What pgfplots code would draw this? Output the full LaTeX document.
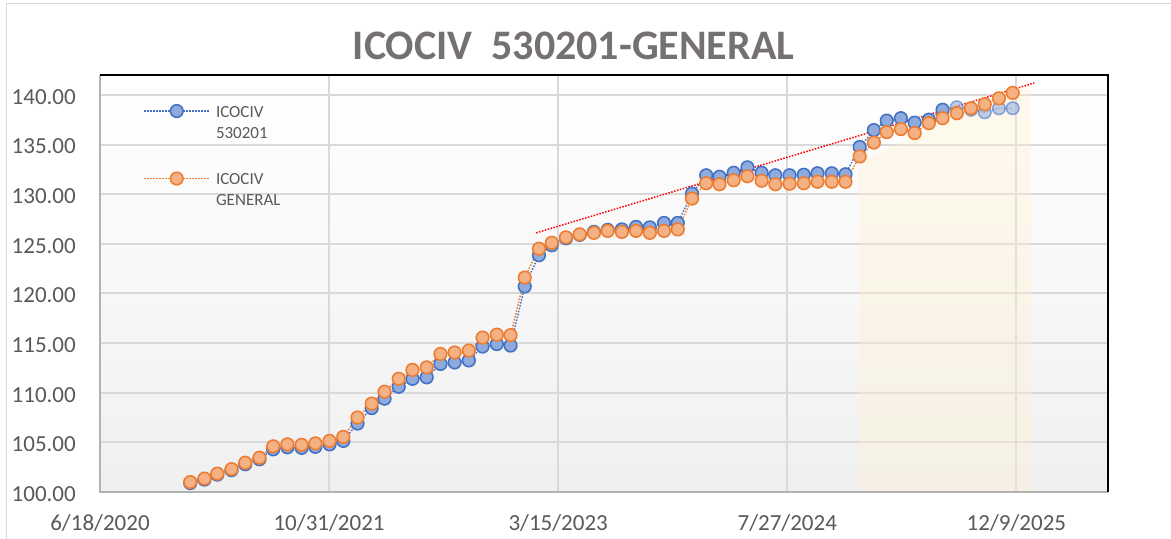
\documentclass[border=0pt]{standalone}
\usepackage{pgfplots}
\usepackage{pgfplotstable}
\pgfplotsset{compat=1.18}
\usepackage{fontspec}
\setmainfont{Carlito}
\definecolor{bluel}{HTML}{4472C4}
\definecolor{bluef}{HTML}{8FAADC}
\definecolor{orl}{HTML}{ED7D31}
\definecolor{orf}{HTML}{F4B183}
\definecolor{txt}{HTML}{595959}
\definecolor{ttl}{HTML}{767171}
\definecolor{gridc}{HTML}{D9D9D9}
\definecolor{shadec}{HTML}{FFF2CC}

\pgfplotstableread{
date  blue   orange
44197 100.90 101.00
44228 101.25 101.35
44256 101.75 101.85
44287 102.20 102.30
44317 102.80 102.95
44348 103.30 103.45
44378 104.30 104.60
44409 104.50 104.80
44440 104.45 104.75
44470 104.55 104.90
44501 104.80 105.15
44531 105.15 105.55
44562 106.90 107.50
44593 108.45 108.90
44621 109.40 110.10
44652 110.60 111.40
44682 111.40 112.30
44713 111.55 112.55
44743 112.90 113.90
44774 113.05 114.05
44805 113.25 114.25
44835 114.65 115.55
44866 114.90 115.85
44896 114.75 115.80
44927 120.70 121.60
44958 123.85 124.50
44986 124.85 125.10
45017 125.55 125.65
45047 125.90 125.95
45078 126.20 126.10
45108 126.40 126.30
45139 126.45 126.20
45170 126.70 126.30
45200 126.65 126.10
45231 127.10 126.30
45261 127.10 126.45
45292 130.05 129.55
45323 131.90 131.10
45352 131.75 131.00
45383 132.15 131.40
45413 132.70 131.80
45444 132.15 131.35
45474 131.90 131.00
45505 131.90 131.05
45536 131.95 131.10
45566 132.10 131.25
45597 132.10 131.25
45627 132.00 131.25
45658 134.75 133.80
45689 136.45 135.20
45717 137.40 136.25
45748 137.65 136.55
45778 137.20 136.15
45809 137.50 137.15
45839 138.50 137.65
45870 138.75 138.15
45901 138.50 138.65
45931 138.25 139.05
45962 138.65 139.65
45992 138.65 140.20
}\datatable

\begin{document}
\begin{tikzpicture}
\useasboundingbox (-100bp,-47bp) rectangle (1071bp,492bp);
\fill[white] (-100bp,-47bp) rectangle (1071bp,492bp);
\draw[black!15, line width=1bp] (-93bp,-60bp) -- (-93bp,488bp) -- (1090bp,488bp);
\begin{axis}[
  at={(0,0)}, anchor=south west,
  scale only axis, width=1008bp, height=417bp,
  xmin=44000, xmax=46200, ymin=100, ymax=142,
  xtick={44000,44500,45000,45500,46000},
  xticklabels={6/18/2020,10/31/2021,3/15/2023,7/27/2024,12/9/2025},
  scaled x ticks=false,
  ytick={100,105,110,115,120,125,130,135,140},
  yticklabel={\pgfmathprintnumber[fixed,fixed zerofill,precision=2]{\tick}},
  /pgf/number format/assume math mode=true,
  major tick length=0pt,
  grid=major,
  major grid style={gridc, line width=2bp},
  axis line style={draw=none},
  axis background/.style={shade, top color=white, bottom color=black!6},
  ticklabel style={font=\fontsize{23bp}{27bp}\selectfont, text=txt},
  xticklabel style={anchor=base, inner sep=0pt, yshift=-38bp},
  yticklabel style={anchor=east, inner sep=0pt, xshift=-24bp, yshift=-2bp},
  title={ICOCIV\hspace{0.45em}530201-GENERAL},
  title style={font=\fontsize{42bp}{50bp}\selectfont\bfseries, text=ttl,
    at={(axis description cs:0.4698,1)}, anchor=base, yshift=10bp},
  legend style={at={(axis description cs:0.04,0.935)}, anchor=north west,
    draw=none, fill=none, font=\fontsize{17bp}{21bp}\selectfont, text=txt,
    nodes={align=left, inner xsep=6bp}, row sep=30bp},
  legend cell align=left,
  legend image code/.code={\draw[mark repeat=2,mark phase=2,#1] plot coordinates {(0bp,12bp) (32.5bp,12bp) (65bp,12bp)};},
  after end axis/.code={
    \draw[black!30, line width=1.5bp] (rel axis cs:0,1) -- (rel axis cs:0,0) -- (rel axis cs:1,0);
    \draw[black, line width=2bp] (rel axis cs:0,1) -- (rel axis cs:1,1) -- (rel axis cs:1,0);
  },
]
\addplot[fill=shadec, fill opacity=0.35, draw=none, forget plot]
  coordinates {(45656,100) (45656,133.3) (46031,141.1) (46031,100)} -- cycle;
\addplot[bluel, line width=1.5bp, dash pattern=on 1.5bp off 1.5bp,
  mark=*, mark size=6.3bp, mark options={solid, fill=bluef, draw=bluel, line width=1.6bp},
  restrict x to domain=44000:45860]
  table[x=date, y=blue] {\datatable};
\addlegendentry{ICOCIV\\530201}
\addplot[bluel, opacity=0.55, line width=1.5bp, dash pattern=on 1.5bp off 1.5bp,
  mark=*, mark size=6.3bp, mark options={solid, fill=bluef, draw=bluel, line width=1.6bp},
  restrict x to domain=45860:46000, forget plot]
  table[x=date, y=blue] {\datatable};
\addplot[orl, line width=1.5bp, dash pattern=on 1.5bp off 1.5bp,
  mark=*, mark size=6.3bp, mark options={solid, fill=orf, draw=orl, line width=1.6bp}]
  table[x=date, y=orange] {\datatable};
\addlegendentry{ICOCIV\\GENERAL}
\addplot[red, line width=1.5bp, dash pattern=on 1.5bp off 1.5bp, forget plot]
  coordinates {(44952,126.1) (46039,141.2)};
\end{axis}
\end{tikzpicture}
\end{document}
